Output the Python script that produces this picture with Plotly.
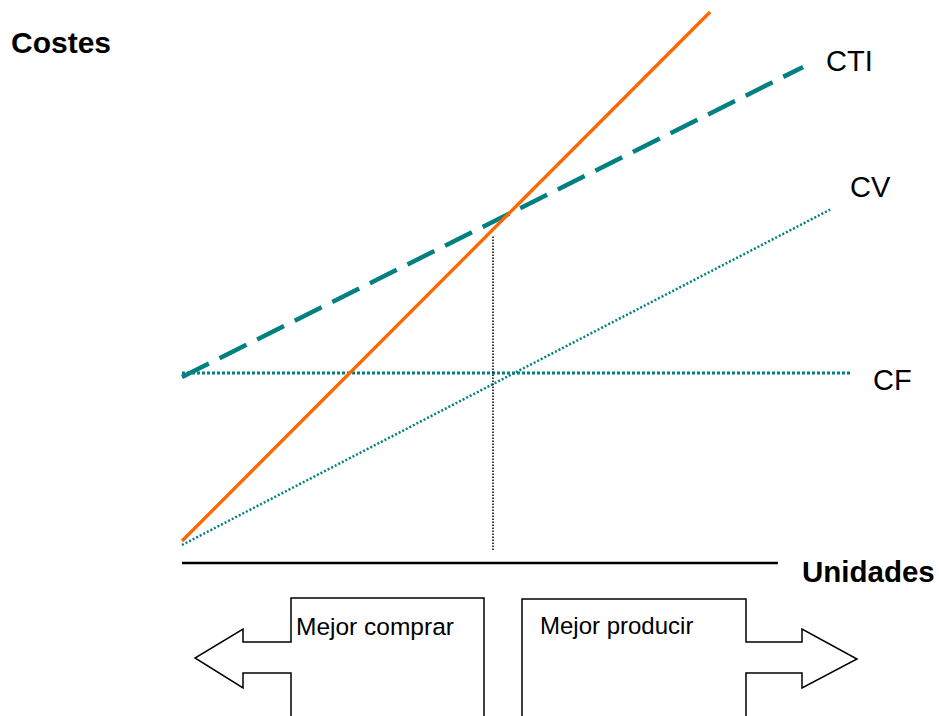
import plotly.graph_objects as go

# ---- data (units Q, costs C) ----
q_cf = [0, 215.4]
c_cf = [100, 100]            # costes fijos (CF)
q_cv = [0, 208.4]
c_cv = [0, 195]              # costes variables (CV)
q_cti = [0, 199.7]
c_cti = [97.7, 277.9]        # coste total interno (CTI)
q_buy = [0, 169.8]
c_buy = [2.3, 309.9]         # coste de comprar
q_be = [100, 100]
c_be = [-2.9, 180.2]         # punto de indiferencia
q_axis = [0, 191.6]
c_axis = [-10.5, -10.5]      # eje de unidades

W, H = 939, 716
X0, SX = 182, 3.11           # pixel mapping used only to set axis ranges
Y0, SY = 545, 1.72
TEAL = "#008080"
ORANGE = "#FF6600"
FONT = "Liberation Sans, Arial, sans-serif"

fig = go.Figure()
fig.add_trace(go.Scatter(x=q_cf, y=c_cf, mode="lines", hoverinfo="skip",
                         line=dict(color=TEAL, width=3, dash="3px,2px")))
fig.add_trace(go.Scatter(x=q_cv, y=c_cv, mode="lines", hoverinfo="skip",
                         line=dict(color=TEAL, width=2.5, dash="2px,2px")))
fig.add_trace(go.Scatter(x=q_cti, y=c_cti, mode="lines", hoverinfo="skip",
                         line=dict(color=TEAL, width=4.5, dash="30px,12px")))
fig.add_trace(go.Scatter(x=q_buy, y=c_buy, mode="lines", hoverinfo="skip",
                         line=dict(color=ORANGE, width=3.3)))
fig.add_trace(go.Scatter(x=q_be, y=c_be, mode="lines", hoverinfo="skip",
                         line=dict(color="black", width=1.5, dash="1.5px,1.5px")))
fig.add_trace(go.Scatter(x=q_axis, y=c_axis, mode="lines", hoverinfo="skip",
                         line=dict(color="black", width=2.5)))


def px(x):
    return x / W


def py(y):
    return 1 - y / H


def path(points):
    return "M " + " L ".join(f"{px(a):.5f},{py(b):.5f}" for a, b in points)


left_arrow = [(291, 730), (291, 673), (243, 673), (243, 688), (195, 658),
              (243, 629), (243, 642), (291, 642), (291, 598), (484, 598), (484, 730)]
right_arrow = [(522, 730), (522, 599), (746, 599), (746, 642), (802, 642), (802, 629),
               (857, 659), (802, 688), (802, 673), (746, 673), (746, 730)]
shapes = [
    dict(type="path", xref="paper", yref="paper", path=path(left_arrow),
         line=dict(color="black", width=1.5), fillcolor="rgba(0,0,0,0)"),
    dict(type="path", xref="paper", yref="paper", path=path(right_arrow),
         line=dict(color="black", width=1.5), fillcolor="rgba(0,0,0,0)"),
]

annotations = [
    dict(text="<b>Costes</b>", x=px(9), y=py(43), xanchor="left", yanchor="middle",
         font=dict(size=30, color="black", family=FONT)),
    dict(text="<b>Unidades</b>", x=px(800), y=py(571), xanchor="left", yanchor="middle",
         font=dict(size=29.5, color="black", family=FONT)),
    dict(text="CTI", x=px(849), y=py(61), xanchor="center", yanchor="middle",
         font=dict(size=29, color="black", family=FONT)),
    dict(text="CV", x=px(870), y=py(187), xanchor="center", yanchor="middle",
         font=dict(size=29, color="black", family=FONT)),
    dict(text="CF", x=px(892), y=py(380), xanchor="center", yanchor="middle",
         font=dict(size=29, color="black", family=FONT)),
    dict(text="Mejor comprar", x=px(294), y=py(626), xanchor="left", yanchor="middle",
         font=dict(size=24.5, color="black", family=FONT)),
    dict(text="Mejor producir", x=px(538), y=py(625), xanchor="left", yanchor="middle",
         font=dict(size=24, color="black", family=FONT)),
]
for a in annotations:
    a.update(xref="paper", yref="paper", showarrow=False)

fig.update_layout(
    width=W, height=H,
    margin=dict(l=0, r=0, t=0, b=0),
    paper_bgcolor="white", plot_bgcolor="white",
    showlegend=False,
    hovermode=False,
    xaxis=dict(range=[-X0 / SX, (W - X0) / SX], visible=False, fixedrange=True),
    yaxis=dict(range=[(Y0 - H) / SY, Y0 / SY], visible=False, fixedrange=True),
    shapes=shapes,
    annotations=annotations,
)

fig.write_html(
    "out.html",
    config={"displayModeBar": False, "staticPlot": True},
    post_script="document.body.style.margin='0';document.body.style.overflow='hidden';",
)
